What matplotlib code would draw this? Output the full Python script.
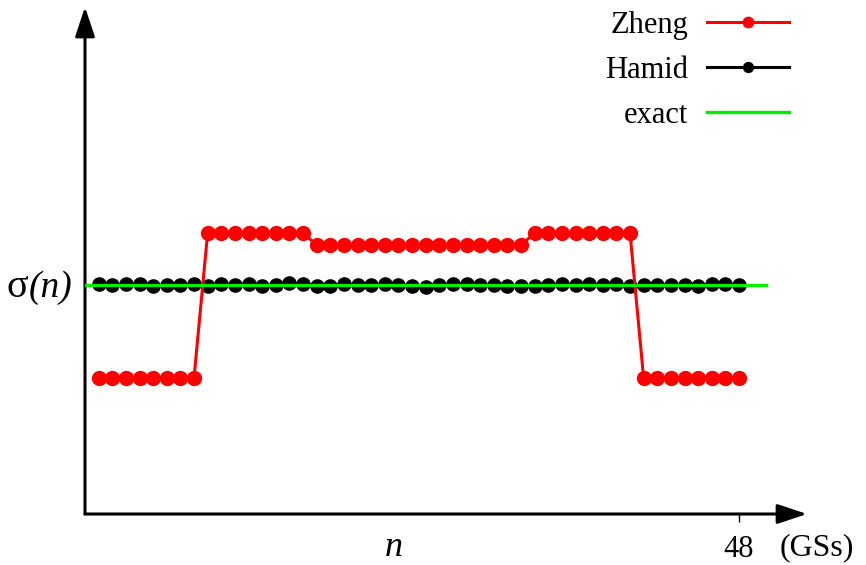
import matplotlib
matplotlib.use("Agg")
import matplotlib.pyplot as plt

plt.rcParams['font.family'] = ['Liberation Serif', 'DejaVu Serif']

# Number of ground states, n = 1 .. 48
n = list(range(1, 49))

# Zheng's estimate: three plateaus, symmetric about the middle
zheng = [0.594] * 8 + [1.227] * 8 + [1.174] * 16 + [1.227] * 8 + [0.594] * 8

# Hamid's estimate: stays on the exact value with tiny scatter
hamid = [1.003, 1.000, 1.003, 1.003, 0.996, 1.000, 1.000, 1.003,
         0.996, 1.006, 1.000, 1.006, 0.996, 1.000, 1.007, 1.003, 0.996,
         0.996, 1.003, 1.000, 1.000, 1.003, 1.000, 0.996, 0.991, 0.999,
         1.003, 1.006, 0.999, 0.999, 0.996, 0.997,
         0.996, 1.000, 1.003, 1.000, 1.003, 1.000, 1.006, 0.996, 1.000,
         1.000, 1.000, 1.000, 0.996, 1.003, 1.003, 1.000]

# Exact sigma(n), drawn as a flat reference line
exact_x = [0, 50.0]
exact_y = [1.0, 1.0]

x_ticks = [48]
x_tick_labels = ["48"]

W, H = 866, 565
fig = plt.figure(figsize=(W / 100, H / 100), dpi=100)
# axes box: origin at (85, 514) px, runs to the arrow tips
ax = fig.add_axes([85 / W, (H - 514) / H, (807 - 85) / W, (514 - 7) / H])
px_per_n = (739 - 85) / 48
px_per_unit = 229
ax.set_xlim(0, (807 - 85) / px_per_n)
ax.set_ylim(0, (514 - 7) / px_per_unit)

for s in ax.spines.values():
    s.set_visible(False)

ax.plot(n, hamid, color='black', lw=2.2, marker='o', ms=9.5, zorder=2,
        label='Hamid')
ax.plot(n, zheng, color='#ff0000', lw=2.2, marker='o', ms=10, zorder=3,
        label='Zheng')
ax.plot(exact_x, exact_y, color='#00ee00', lw=2.4, zorder=4, label='exact')

# Axis arrows
arrow_kw = dict(arrowstyle='-|>,head_length=0.9,head_width=0.3', lw=2.2,
                color='black', shrinkA=0, shrinkB=0, mutation_scale=20)
ax.annotate('', xy=(1, 0), xytext=(0, 0), xycoords='axes fraction',
            textcoords='axes fraction', arrowprops=arrow_kw,
            annotation_clip=False)
ax.annotate('', xy=(0, 1), xytext=(0, 0), xycoords='axes fraction',
            textcoords='axes fraction', arrowprops=arrow_kw,
            annotation_clip=False)

ax.set_yticks([])
ax.set_xticks(x_ticks)
ax.set_xticklabels(x_tick_labels, fontsize=22)
ax.tick_params(axis='x', direction='out', length=6, width=1, pad=9)


def fy(py):
    return 1 - py / H


# Axis labels
fig.text(394 / W, fy(556), 'n', fontsize=26, style='italic',
         ha='center', va='baseline')
fig.text(780 / W, fy(555), '(GSs)', fontsize=23, ha='left', va='baseline')
fig.text(6 / W, fy(297), 'σ', fontsize=29, ha='left', va='baseline')
fig.text(29 / W, fy(297), '(n)', fontsize=27, style='italic',
         ha='left', va='baseline')

handles, labels = ax.get_legend_handles_labels()
order = [1, 0, 2]
ax.legend([handles[i] for i in order], [labels[i] for i in order],
          loc='upper right', bbox_to_anchor=(789 / W, fy(11)),
          bbox_transform=fig.transFigure, frameon=False, markerfirst=False,
          fontsize=22, handlelength=2.68, handletextpad=0.62,
          labelspacing=0.52, borderpad=0, borderaxespad=0, markerscale=0.75)

fig.savefig('out.png', dpi=100)
